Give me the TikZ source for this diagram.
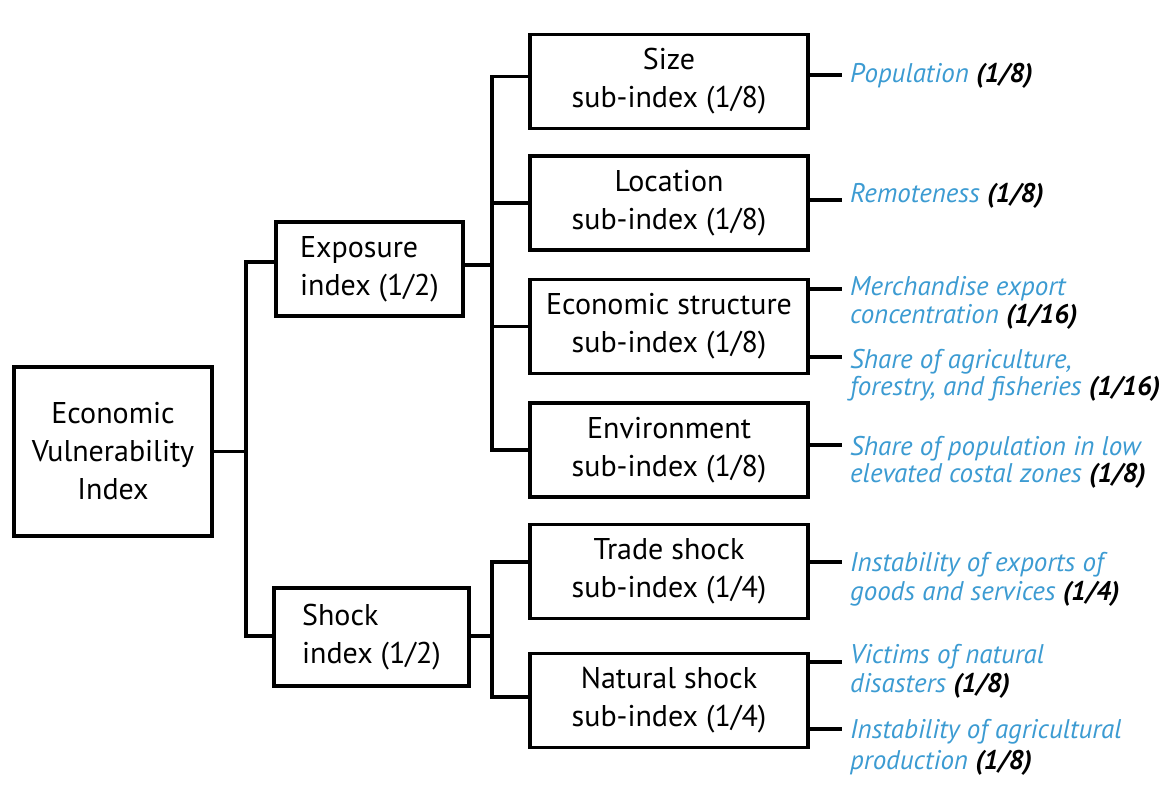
\documentclass[tikz,border=0pt]{standalone}
\usepackage{fontspec}
\setmainfont{PT Sans}
\usetikzlibrary{calc}
\definecolor{lblue}{RGB}{60,155,210}
\newcommand\wgt[1]{{\color{black}\bfseries #1}}
\begin{document}
\begin{tikzpicture}[x=1pt,y=-1pt,
  box/.style={draw, line width=3.6pt, inner sep=0pt, align=center,
    font=\fontsize{30}{38}\selectfont},
  subbox/.style={box, minimum width=278pt, minimum height=94pt},
  conn/.style={line width=3.4pt},
  btxt/.style={inner sep=0pt, anchor=base west, text=lblue,
    font=\fontsize{27}{27}\selectfont\itshape}]
\useasboundingbox (0,0) rectangle (1172,799);
% boxes
\node[box, minimum width=198pt, minimum height=169pt] (evi) at (113,451.5) {Economic\\Vulnerability\\Index};
\node[box, minimum width=187pt, minimum height=94pt, align=left] (exp) at (369.5,269) {Exposure\\index (1/2)};
\node[box, minimum width=195pt, minimum height=98pt, align=left] (shock) at (371.5,637) {Shock\\index (1/2)};
\node[subbox] (size) at (669,81.5) {Size\\sub-index (1/8)};
\node[subbox] (loc) at (669,203) {Location\\sub-index (1/8)};
\node[subbox] (eco) at (669,326.5) {Economic structure\\sub-index (1/8)};
\node[subbox] (env) at (669,450) {Environment\\sub-index (1/8)};
\node[subbox] (trade) at (669,571.5) {Trade shock\\sub-index (1/4)};
\node[subbox] (nat) at (669,700.5) {Natural shock\\sub-index (1/4)};
% junctions
\coordinate (j1) at (246,451.5);
\coordinate (j2) at (492,265);
\coordinate (j3) at (492,636);
\draw[conn] (evi.east) -- (j1);
\draw[conn] ([yshift=7pt]exp.west) -| (j1) |- ([yshift=1pt]shock.west);
\draw[conn] ([yshift=4pt]exp.east) -- (j2);
\draw[conn] ([yshift=5pt]size.west) -| (j2) |- (env.west);
\draw[conn] (j2 |- loc.west) -- (loc.west);
\draw[conn] (j2 |- eco.west) -- (eco.west);
\draw[conn] ([yshift=1pt]shock.east) -- (j3);
\draw[conn] ([yshift=9.5pt]trade.west) -| (j3) |- ([yshift=3.5pt]nat.west);
% right connectors
\coordinate (c1) at (842,75);
\coordinate (c2) at (842,200);
\coordinate (c3) at (842,289);
\coordinate (c4) at (842,357);
\coordinate (c5) at (842,445);
\coordinate (c6) at (842,562);
\coordinate (c7) at (842,662);
\coordinate (c8) at (842,729);
\draw[conn] (size.east |- c1) -- (c1);
\draw[conn] (loc.east |- c2) -- (c2);
\draw[conn] (eco.east |- c3) -- (c3);
\draw[conn] (eco.east |- c4) -- (c4);
\draw[conn] (env.east |- c5) -- (c5);
\draw[conn] (trade.east |- c6) -- (c6);
\draw[conn] (nat.east |- c7) -- (c7);
\draw[conn] (nat.east |- c8) -- (c8);
% texts
\node[btxt] (t1) at (850,83) {Population \wgt{(1/8)}};
\node[btxt] (t2) at (850,203) {Remoteness \wgt{(1/8)}};
\node[btxt] (t3) at (850,296) {\begin{tabular}[t]{@{}l@{}}Merchandise export\\concentration \wgt{(1/16)}\end{tabular}};
\node[btxt] (t4) at (850,368) {\begin{tabular}[t]{@{}l@{}}Share of agriculture,\\forestry, and fisheries \wgt{(1/16)}\end{tabular}};
\node[btxt] (t5) at (850,455) {\begin{tabular}[t]{@{}l@{}}Share of population in low\\elevated costal zones \wgt{(1/8)}\end{tabular}};
\node[btxt] (t6) at (850,571) {\begin{tabular}[t]{@{}l@{}}Instability of exports of\\[2pt]goods and services \wgt{(1/4)}\end{tabular}};
\node[btxt] (t7) at (850,663) {\begin{tabular}[t]{@{}l@{}}Victims of natural\\[2pt]disasters \wgt{(1/8)}\end{tabular}};
\node[btxt] (t8) at (850,738) {\begin{tabular}[t]{@{}l@{}}Instability of agricultural\\[4pt]production \wgt{(1/8)}\end{tabular}};
\end{tikzpicture}
\end{document}
